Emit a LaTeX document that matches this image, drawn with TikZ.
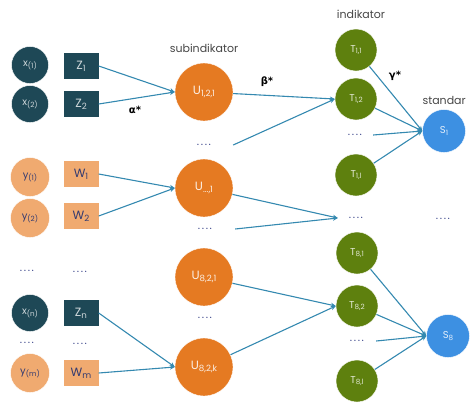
\documentclass[tikz,border=0pt]{standalone}
\usepackage{fontspec}
\setmainfont{Poppins}
\newfontfamily\greekfont{DejaVu Sans}
\usetikzlibrary{arrows.meta}

\definecolor{darkteal}{RGB}{30,72,86}
\definecolor{lightorange}{RGB}{240,170,112}
\definecolor{deeporange}{RGB}{229,122,34}
\definecolor{olivegreen}{RGB}{94,128,14}
\definecolor{skyblue}{RGB}{61,144,226}
\definecolor{linkblue}{RGB}{52,137,176}
\definecolor{dotblue}{RGB}{62,72,140}
\definecolor{labelgrey}{RGB}{70,70,70}

\newcommand\sub[1]{\raisebox{-0.35ex}{\scalebox{0.72}{#1}}}
\newcommand\ellip{.\kern1.6pt.\kern1.6pt.\kern1.6pt.}

\tikzset{
  conn/.style={draw=linkblue, line width=1.1pt, -{Stealth[length=5pt,width=4.5pt]}},
  xnode/.style={circle, fill=darkteal, draw=white, minimum size=37pt, inner sep=0pt,
    text=white!78!darkteal, font=\fontsize{10}{11}\selectfont},
  ynode/.style={circle, fill=lightorange, draw=white, minimum size=39pt, inner sep=0pt,
    text=dotblue!80!black, font=\fontsize{10}{11}\selectfont},
  zbox/.style={rectangle, fill=darkteal, minimum width=35pt, minimum height=26pt, inner sep=0pt,
    text=white!78!darkteal, font=\fontsize{12}{13}\selectfont},
  wbox/.style={rectangle, fill=lightorange, minimum width=35pt, minimum height=26pt, inner sep=0pt,
    text=dotblue!80!black, font=\fontsize{12}{13}\selectfont},
  unode/.style={circle, fill=deeporange, draw=white, minimum size=58pt, inner sep=0pt,
    text=white!88!deeporange, font=\fontsize{12}{13}\selectfont},
  tnode/.style={circle, fill=olivegreen, draw=white, minimum size=42pt, inner sep=0pt,
    text=white!82!olivegreen, font=\fontsize{10}{11}\selectfont},
  snode/.style={circle, fill=skyblue, draw=white, minimum size=43pt, inner sep=0pt,
    text=white!85!skyblue, font=\fontsize{10}{11}\selectfont},
  dotsnode/.style={inner sep=0pt, text=dotblue, font=\fontsize{11}{11}\selectfont},
  lbl/.style={text=labelgrey, font=\fontsize{11}{13}\selectfont},
  greek/.style={text=black, font=\greekfont\bfseries\fontsize{10}{12}\selectfont}
}

\begin{document}
\begin{tikzpicture}[x=1pt,y=-1pt]
		%%%%% START %%%%%
		\useasboundingbox (0,0) rectangle (471,402);

		% titles
		\node[lbl] (sublbl) at (204,48) {subindikator};
		\node[lbl] (indlbl) at (361,14) {indikator};
		\node[lbl, anchor=west] (stdlbl) at (419,100) {standar};

		% variables and items
		\node[xnode] (x1) at (30,65) {x\sub{(1)}};
		\node[xnode] (x2) at (30,104) {x\sub{(2)}};
		\node[ynode] (y1) at (30,177) {y\sub{(1)}};
		\node[ynode] (y2) at (30,218) {y\sub{(2)}};
		\node[xnode] (xn) at (30,313) {x\sub{(n)}};
		\node[ynode] (ym) at (30,373) {y\sub{(m)}};

		\node[zbox] (z1) at (81,66) {Z\sub{1}};
		\node[zbox] (z2) at (81,104) {Z\sub{2}};
		\node[wbox] (w1) at (81,174) {W\sub{1}};
		\node[wbox] (w2) at (81,216) {W\sub{2}};
		\node[zbox] (zn) at (81,313) {Z\sub{n}};
		\node[wbox] (wm) at (81,373) {W\sub{m}};

		\node[dotsnode] (xd1) at (27,271) {\ellip};
		\node[dotsnode] (zd1) at (80,272) {\ellip};
		\node[dotsnode] (xd2) at (27,343) {\ellip};
		\node[dotsnode] (zd2) at (80,344) {\ellip};

		% subindicators
		\node[unode] (u1) at (204,92) {U\sub{1,2,1}};
		\node[dotsnode, minimum width=58pt] (ud1) at (204,145) {\ellip};
		\node[unode] (u2) at (204,188) {U\sub{...,1}};
		\node[dotsnode, minimum width=60pt] (ud2) at (205,229) {\ellip};
		\node[unode] (u3) at (204,277) {U\sub{8,2,1}};
		\node[dotsnode] (ud3) at (205,318) {\ellip};
		\node[unode] (u4) at (204,367) {U\sub{8,2,k}};

		% indicators
		\node[tnode] (t11) at (356,50) {T\sub{1,1}};
		\node[tnode] (t12) at (356,99) {T\sub{1,2}};
		\node[dotsnode, minimum width=36pt] (td1) at (355,135) {\ellip};
		\node[tnode] (t1l) at (356,175) {T\sub{1,l}};
		\node[dotsnode, minimum width=36pt] (td2) at (356,218) {\ellip};
		\node[tnode] (t81) at (357,253) {T\sub{8,1}};
		\node[tnode] (t82) at (357,306) {T\sub{8,2}};
		\node[dotsnode, minimum width=38pt] (td3) at (357,341) {\ellip};
		\node[tnode] (t8l) at (357,381) {T\sub{8,l}};

		% standards
		\node[snode] (s1) at (444,131) {S\sub{1}};
		\node[dotsnode] (sd) at (443,219) {\ellip};
		\node[snode] (s8) at (448,336) {S\sub{8}};

		% loadings
		\node[greek] (alpha) at (135,110) {α*};
		\node[greek] (beta) at (267,82) {β*};
		\node[greek] (gamma) at (395,76) {γ*};

		\draw[conn] (z1.east) -- (u1.west);
		\draw[conn] (z2.east) -- (u1.west);
		\draw[conn] (w1.east) -- (u2.west);
		\draw[conn] (w2.east) -- (u2.west);
		\draw[conn] (zn.east) -- (u4.west);
		\draw[conn] (wm.east) -- (u4.west);

		\draw[conn] (u1) -- (t12.west);
		\draw[conn] (ud1.east) -- (t12.west);
		\draw[conn] (u2) -- (td2.west);
		\draw[conn] (ud2.east) -- (td2.west);
		\draw[conn] (u3) -- (t82.west);
		\draw[conn] (u4) -- (t82.west);

		\draw[conn] (t11) -- (s1.west);
		\draw[conn] (t12) -- (s1.west);
		\draw[conn] (td1.east) -- (s1.west);
		\draw[conn] (t1l) -- (s1.west);
		\draw[conn] (t81) -- (s8.west);
		\draw[conn] (t82) -- (s8.west);
		\draw[conn] (td3.east) -- (s8.west);
		\draw[conn] (t8l) -- (s8.west);

		%%%%% END %%%%%
\end{tikzpicture}
\end{document}
